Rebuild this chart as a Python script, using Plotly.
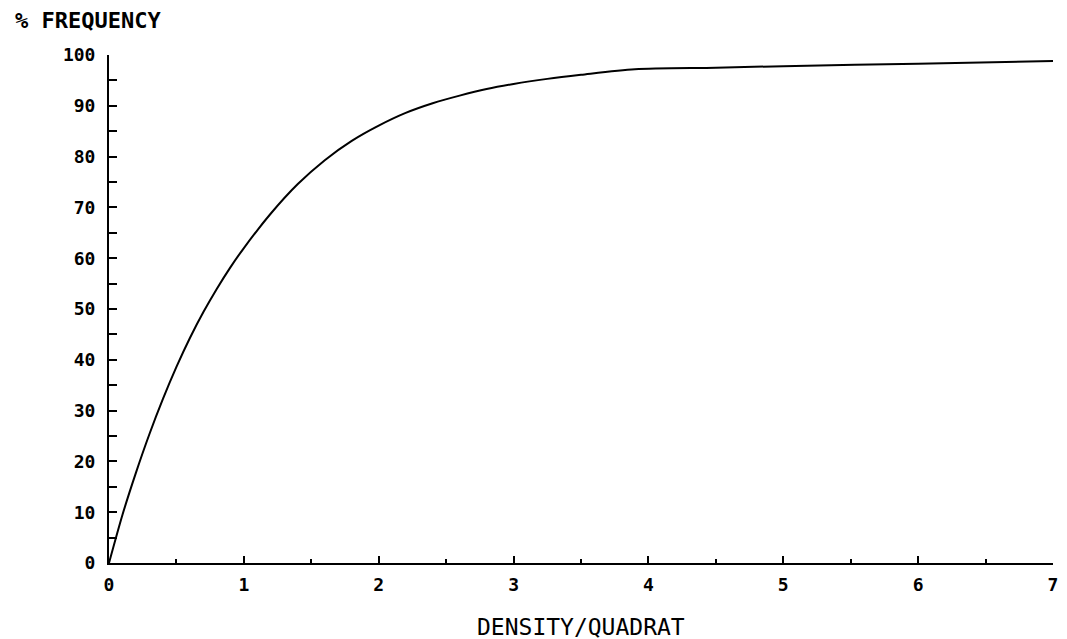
import plotly.graph_objects as go

density = [0, 0.1, 0.2, 0.3, 0.4, 0.5, 0.6, 0.7, 0.8, 0.9, 1.0, 1.2, 1.4, 1.6, 1.8,
           2.0, 2.2, 2.4, 2.6, 2.8, 3.0, 3.25, 3.5, 3.9, 4.5, 5.0, 6.0, 7.0]
frequency = [0, 9.5, 17.8, 25.4, 32.3, 38.6, 44.3, 49.4, 54.0, 58.2, 62.0, 68.8, 74.6,
             79.3, 83.1, 86.1, 88.6, 90.5, 92.0, 93.3, 94.3, 95.3, 96.1, 97.2, 97.5,
             97.8, 98.3, 98.8]

x_ticks = [0, 1, 2, 3, 4, 5, 6, 7]
x_labels = ["0", "1", "2", "3", "4", "5", "6", "7"]
y_ticks = [0, 10, 20, 30, 40, 50, 60, 70, 80, 90, 100]
y_labels = ["0", "10", "20", "30", "40", "50", "60", "70", "80", "90", "100"]

FONT = "DejaVu Sans Mono"

fig = go.Figure()
fig.add_trace(go.Scatter(x=density, y=frequency, mode="lines",
                         line=dict(color="black", width=2, shape="spline", smoothing=0.8),
                         showlegend=False, hoverinfo="skip"))

fig.update_xaxes(range=[0, 7], tickvals=x_ticks, ticktext=x_labels,
                 showline=True, linecolor="black", linewidth=2,
                 ticks="inside", ticklen=7, tickwidth=1.5, tickcolor="black",
                 minor=dict(ticks="inside", dtick=0.5, ticklen=4, tickwidth=1.5, tickcolor="black"),
                 showgrid=False, zeroline=False,
                 tickfont=dict(family=FONT, size=18, color="black", weight="bold"),
                 ticklabelstandoff=4)
fig.update_yaxes(range=[0, 100], tickvals=y_ticks, ticktext=y_labels,
                 showline=True, linecolor="black", linewidth=2,
                 ticks="inside", ticklen=8, tickwidth=1.5, tickcolor="black",
                 minor=dict(ticks="inside", dtick=5, ticklen=8, tickwidth=1.5, tickcolor="black"),
                 showgrid=False, zeroline=False,
                 tickfont=dict(family=FONT, size=18, color="black", weight="bold"),
                 ticklabelstandoff=8)

fig.add_annotation(text="% FREQUENCY", xref="paper", yref="paper",
                   x=-0.1015, y=1.067, xanchor="left", yanchor="middle",
                   showarrow=False, font=dict(family=FONT, size=22, color="black", weight="bold"))
fig.add_annotation(text="DENSITY/QUADRAT", xref="paper", yref="paper",
                   x=0.5005, y=-0.125, xanchor="center", yanchor="middle",
                   showarrow=False, font=dict(family=FONT, size=23, color="black"))

fig.update_layout(width=1067, height=639, plot_bgcolor="white", paper_bgcolor="white",
                  margin=dict(l=109, r=9, t=55, b=76))

fig.write_html("out.html")
